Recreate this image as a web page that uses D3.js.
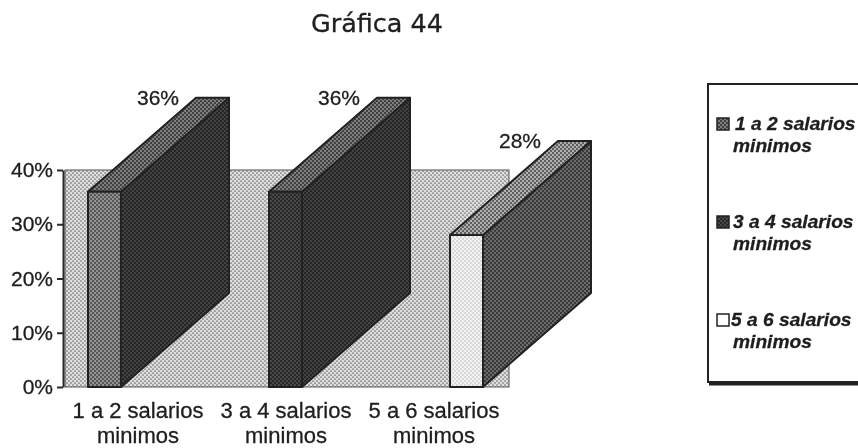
<!doctype html>
<html lang="en">
<head>
<meta charset="utf-8">
<title>Gráfica 44</title>
<style>
  html, body { margin: 0; background: #fff; }
  svg { display: block; filter: blur(0.45px); }
  text { fill: #1e1e1e; stroke: #1e1e1e; stroke-width: 0.3px; font-family: "Liberation Sans", sans-serif; }
</style>
</head>
<body>
<script src="https://d3js.org/d3.v7.min.js"></script>
<svg xmlns="http://www.w3.org/2000/svg"></svg>
<script>
  var categories = ["1 a 2 salarios", "3 a 4 salarios", "5 a 6 salarios"];
  var secondLine = "minimos";
  var values = [36, 36, 28];
  var yTicks = [0, 10, 20, 30, 40];

  var svg = d3.select("svg").attr("width", 858).attr("height", 448);

  // halftone fills, the scan has a dot screen on every face
  var defs = svg.append("defs");
  function halftone(id, bg, dot, r) {
    var p = defs.append("pattern").attr("id", id)
      .attr("patternUnits", "userSpaceOnUse").attr("width", 4).attr("height", 4);
    p.append("rect").attr("width", 4).attr("height", 4).attr("fill", bg);
    p.append("circle").attr("cx", 1).attr("cy", 1).attr("r", r).attr("fill", dot);
    p.append("circle").attr("cx", 3).attr("cy", 3).attr("r", r).attr("fill", dot);
  }
  halftone("wall", "#dedede", "#6e6e6e", 0.85);
  halftone("topFace", "#7e7e7e", "#262626", 0.95);
  halftone("topLight", "#b0b0b0", "#3c3c3c", 0.95);
  halftone("front1", "#929292", "#3e3e3e", 0.95);
  halftone("front2", "#484848", "#1c1c1c", 0.95);
  halftone("front3", "#f2f2f2", "#b4b4b4", 0.75);
  halftone("side1", "#424242", "#1a1a1a", 0.95);
  halftone("side3", "#6a6a6a", "#262626", 0.95);

  var frontFill = ["url(#front1)", "url(#front2)", "url(#front3)"];
  var sideFill = ["url(#side1)", "url(#side1)", "url(#side3)"];
  var topFill = ["url(#topFace)", "url(#topFace)", "url(#topLight)"];

  var x0 = 65, x1 = 509;
  var y = d3.scaleLinear().domain([0, 40]).range([387, 170]);
  // labels sit on the wall's bands, bars are spaced wider than that in the 3D projection
  var xLabel = d3.scaleBand().domain(categories).range([x0, x1]);
  var xBar = d3.scalePoint().domain(categories).range([88, 450]);
  var barW = 33, depthX = 108, depthY = -94;

  svg.append("text").attr("x", 377).attr("y", 32)
    .attr("text-anchor", "middle")
    .style("font-family", "'DejaVu Sans', sans-serif").style("font-size", "25.5px")
    .text("Gráfica 44");

  svg.append("rect")
    .attr("x", x0).attr("y", y(40)).attr("width", x1 - x0).attr("height", y(0) - y(40))
    .attr("fill", "url(#wall)").attr("stroke", "#555").attr("stroke-width", 1);

  var yAxis = svg.append("g").attr("transform", "translate(" + (x0 - 2) + ",0)")
    .call(d3.axisLeft(y).tickValues(yTicks).tickSize(6).tickSizeOuter(0).tickPadding(4).tickFormat(function(d) { return d + "%"; }));
  yAxis.select(".domain").attr("stroke", "#2a2a2a").attr("stroke-width", 2);
  yAxis.selectAll(".tick line").attr("stroke", "#2a2a2a").attr("stroke-width", 2);
  yAxis.selectAll("text").style("font-size", "21px").style("font-family", "'Liberation Sans', sans-serif").attr("fill", "#1e1e1e");

  var bars = svg.selectAll(".bar").data(categories).enter().append("g").attr("class", "bar");

  function pts(list) { return list.map(function(p) { return p.join(","); }).join(" "); }

  bars.append("polygon")
    .attr("points", function(d, i) {
      var l = xBar(d), r = l + barW, t = y(values[i]), b = y(0);
      return pts([[r, t], [r + depthX, t + depthY], [r + depthX, b + depthY], [r, b]]);
    })
    .attr("fill", function(d, i) { return sideFill[i]; });

  bars.append("polygon")
    .attr("points", function(d, i) {
      var l = xBar(d), r = l + barW, t = y(values[i]);
      return pts([[l, t], [l + depthX, t + depthY], [r + depthX, t + depthY], [r, t]]);
    })
    .attr("fill", function(d, i) { return topFill[i]; });

  bars.append("rect")
    .attr("x", function(d) { return xBar(d); })
    .attr("y", function(d, i) { return y(values[i]); })
    .attr("width", barW)
    .attr("height", function(d, i) { return y(0) - y(values[i]); })
    .attr("fill", function(d, i) { return frontFill[i]; });

  bars.selectAll("polygon, rect")
    .attr("stroke", "#222").attr("stroke-width", 2).attr("stroke-linejoin", "round");

  bars.append("text")
    .attr("x", function(d) { return xBar(d) + depthX - 17; })
    .attr("y", function(d, i) { return y(values[i]) + depthY + 7; })
    .attr("text-anchor", "end")
    .style("font-size", "21px")
    .text(function(d, i) { return values[i] + "%"; });

  var labels = svg.selectAll(".xlabel").data(categories).enter().append("text")
    .attr("class", "xlabel")
    .attr("text-anchor", "middle")
    .style("font-size", "22px");
  labels.append("tspan").attr("x", function(d) { return xLabel(d) + xLabel.bandwidth() / 2 - 1; }).attr("y", 418)
    .text(function(d) { return d; });
  // the scan's second line nearly touches the bottom, nudged up so its box stays inside
  labels.append("tspan").attr("x", function(d) { return xLabel(d) + xLabel.bandwidth() / 2 - 1; }).attr("y", 443)
    .text(secondLine);

  // legend, runs off the right edge of the scan
  var legY = d3.scalePoint().domain(categories).range([124, 320]);
  var legendFill = ["url(#topFace)", "url(#front2)", "#fff"];
  var legTextX = [735, 733, 731];
  svg.append("path").attr("d", "M858,84H708V382H858")
    .attr("fill", "none").attr("stroke", "#222").attr("stroke-width", 2);
  svg.append("path").attr("d", "M709,384H858")
    .attr("fill", "none").attr("stroke", "#222").attr("stroke-width", 3);
  var leg = svg.selectAll(".leg").data(categories).enter().append("g").attr("class", "leg")
    .attr("transform", function(d) { return "translate(0," + legY(d) + ")"; });
  leg.append("rect").attr("x", 717).attr("y", -6).attr("width", 12).attr("height", 12)
    .attr("fill", function(d, i) { return legendFill[i]; })
    .attr("stroke", "#222").attr("stroke-width", 1.5);
  var legText = leg.append("text")
    .style("font-size", "19.2px").style("font-weight", "bold").style("font-style", "italic");
  legText.append("tspan").attr("x", function(d, i) { return legTextX[i]; }).attr("y", 6).text(function(d) { return d; });
  legText.append("tspan").attr("x", 733).attr("y", 28).text(secondLine);
</script>
</body>
</html>
